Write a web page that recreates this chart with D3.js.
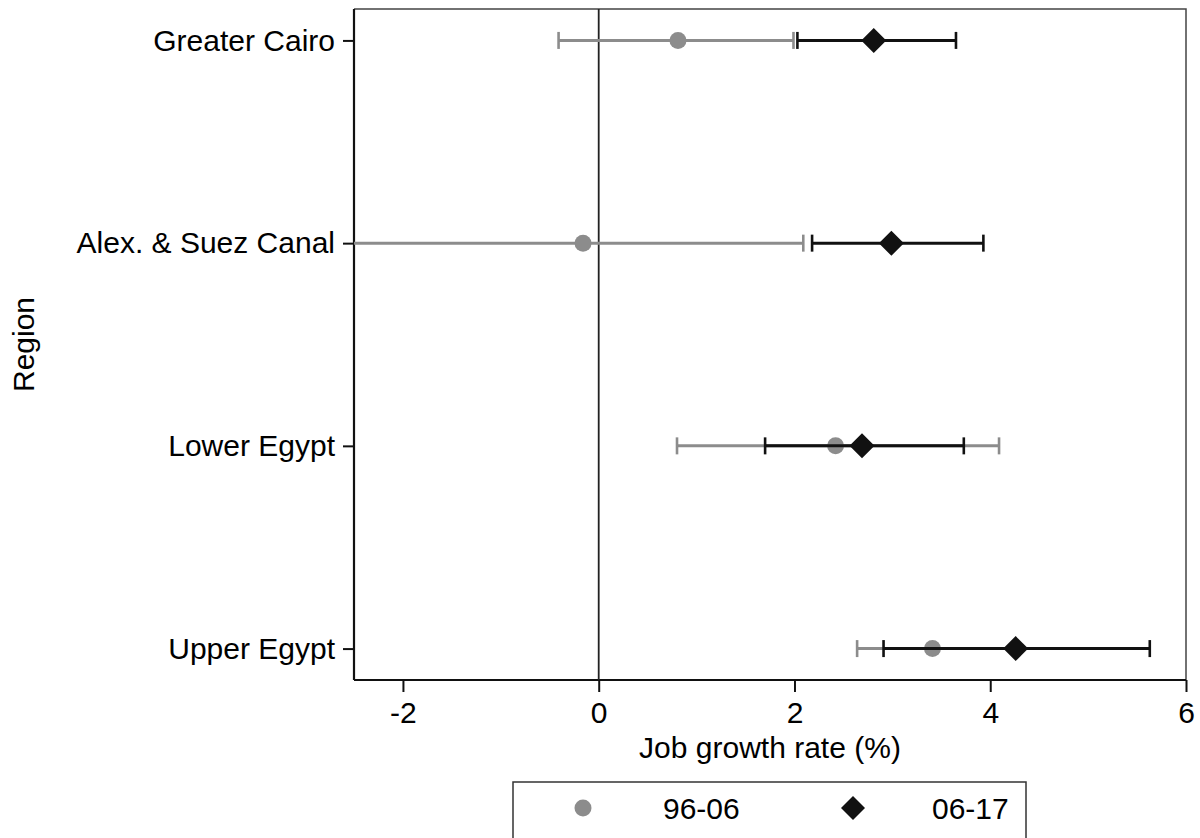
<!DOCTYPE html>
<html>
<head>
<meta charset="utf-8">
<script src="https://cdn.jsdelivr.net/npm/d3@7"></script>
<style>
  html, body { margin: 0; padding: 0; background: #fff; }
  svg { display: block; }
  text { font-family: "Liberation Sans", Arial, Helvetica, sans-serif; fill: #000; }
</style>
</head>
<body>
<svg id="chart" width="1200" height="838"></svg>
<script>
// Regions, top to bottom
const regions = ["Greater Cairo", "Alex. & Suez Canal", "Lower Egypt", "Upper Egypt"];

// Job growth rate (%) with confidence bounds, 1996-2006
const est9606   = [0.81, -0.16, 2.42, 3.41];
const lower9606 = [-0.41, -2.70, 0.80, 2.64];
const upper9606 = [1.99, 2.09, 4.09, 4.25];

// Job growth rate (%) with confidence bounds, 2006-2017
const est0617   = [2.81, 2.99, 2.69, 4.26];
const lower0617 = [2.03, 2.18, 1.70, 2.91];
const upper0617 = [3.65, 3.93, 3.73, 5.63];

const xTicks = [-2, 0, 2, 4, 6];
const seriesLabels = ["96-06", "06-17"];

const grey = "#8c8c8c";
const dark = "#111111";

const svg = d3.select("#chart");
const plot = { left: 354, right: 1186, top: 9, bottom: 680 };

const x = d3.scaleLinear().domain([-2.5, 6]).range([plot.left, plot.right]);
const y = d3.scalePoint().domain(regions).range([plot.top, plot.bottom]).padding(0.155);

// clip for bars that run past the axis range
svg.append("defs").append("clipPath").attr("id", "plotClip")
  .append("rect")
  .attr("x", plot.left).attr("y", plot.top)
  .attr("width", plot.right - plot.left).attr("height", plot.bottom - plot.top);

// plot frame (top and right)
svg.append("path")
  .attr("d", `M${plot.left},${plot.top}H${plot.right}V${plot.bottom}`)
  .attr("fill", "none").attr("stroke", "#444").attr("stroke-width", 1.5);

// x axis
const xAxis = svg.append("g")
  .attr("transform", `translate(0,${plot.bottom})`)
  .call(d3.axisBottom(x).tickValues(xTicks).tickSize(12).tickPadding(10).tickFormat(d3.format("d")));
xAxis.select(".domain").attr("stroke", "#111").attr("stroke-width", 2.2)
  .attr("d", `M${plot.left},0H${plot.right}`);
xAxis.selectAll(".tick line").attr("stroke", "#111").attr("stroke-width", 2);
xAxis.selectAll(".tick text")
  .attr("font-size", 30).attr("fill", "#000")
  .style("font-family", "'Liberation Sans', Arial, sans-serif")
  .text(d => d < 0 ? "-" + Math.abs(d) : d);

// y axis
const yAxis = svg.append("g")
  .attr("transform", `translate(${plot.left},0)`)
  .call(d3.axisLeft(y).tickSize(11).tickPadding(8));
yAxis.select(".domain").attr("stroke", "#111").attr("stroke-width", 2.2)
  .attr("d", `M0,${plot.top}V${plot.bottom}`);
yAxis.selectAll(".tick line").attr("stroke", "#111").attr("stroke-width", 2);
yAxis.selectAll(".tick text")
  .attr("font-size", 30).attr("fill", "#000")
  .style("font-family", "'Liberation Sans', Arial, sans-serif");

// zero reference line
svg.append("line")
  .attr("x1", x(0)).attr("x2", x(0))
  .attr("y1", plot.top).attr("y2", plot.bottom)
  .attr("stroke", "#222").attr("stroke-width", 1.8);

// axis titles
svg.append("text")
  .attr("x", 770).attr("y", 758)
  .attr("text-anchor", "middle").attr("font-size", 30)
  .text("Job growth rate (%)");
svg.append("text")
  .attr("transform", `translate(34,${(plot.top + plot.bottom) / 2}) rotate(-90)`)
  .attr("text-anchor", "middle").attr("font-size", 30)
  .text("Region");

const marks = svg.append("g").attr("clip-path", "url(#plotClip)");
const capHalf = 8.5;

function drawSeries(est, lo, hi, color, shape) {
  const rows = regions.map((r, i) => ({ r, est: est[i], lo: lo[i], hi: hi[i] }));
  const g = marks.append("g");
  g.selectAll("line.bar").data(rows).join("line").attr("class", "bar")
    .attr("x1", d => x(d.lo)).attr("x2", d => x(d.hi))
    .attr("y1", d => y(d.r)).attr("y2", d => y(d.r))
    .attr("stroke", color).attr("stroke-width", 3);
  ["lo", "hi"].forEach(k => {
    g.selectAll("line.cap-" + k).data(rows).join("line").attr("class", "cap-" + k)
      .attr("x1", d => x(d[k])).attr("x2", d => x(d[k]))
      .attr("y1", d => y(d.r) - capHalf).attr("y2", d => y(d.r) + capHalf)
      .attr("stroke", color).attr("stroke-width", 2.6);
  });
  if (shape === "circle") {
    g.selectAll("circle").data(rows).join("circle")
      .attr("cx", d => x(d.est)).attr("cy", d => y(d.r)).attr("r", 8.5)
      .attr("fill", color);
  } else {
    g.selectAll("path.dia").data(rows).join("path").attr("class", "dia")
      .attr("d", d => {
        const cx = x(d.est), cy = y(d.r), h = 12.5;
        return `M${cx},${cy - h}L${cx + h},${cy}L${cx},${cy + h}L${cx - h},${cy}Z`;
      })
      .attr("fill", color);
  }
}

drawSeries(est9606, lower9606, upper9606, grey, "circle");
drawSeries(est0617, lower0617, upper0617, dark, "diamond");

// legend
const legend = svg.append("g");
legend.append("rect")
  .attr("x", 513).attr("y", 782).attr("width", 513).attr("height", 80)
  .attr("fill", "#fff").attr("stroke", "#333").attr("stroke-width", 1.5);
legend.append("circle").attr("cx", 583).attr("cy", 808).attr("r", 8.5).attr("fill", grey);
legend.append("text").attr("x", 663).attr("y", 819).attr("font-size", 30).text(seriesLabels[0]);
legend.append("path")
  .attr("d", "M853,796L865,808L853,820L841,808Z").attr("fill", dark);
legend.append("text").attr("x", 932).attr("y", 819).attr("font-size", 30).text(seriesLabels[1]);
</script>
</body>
</html>
